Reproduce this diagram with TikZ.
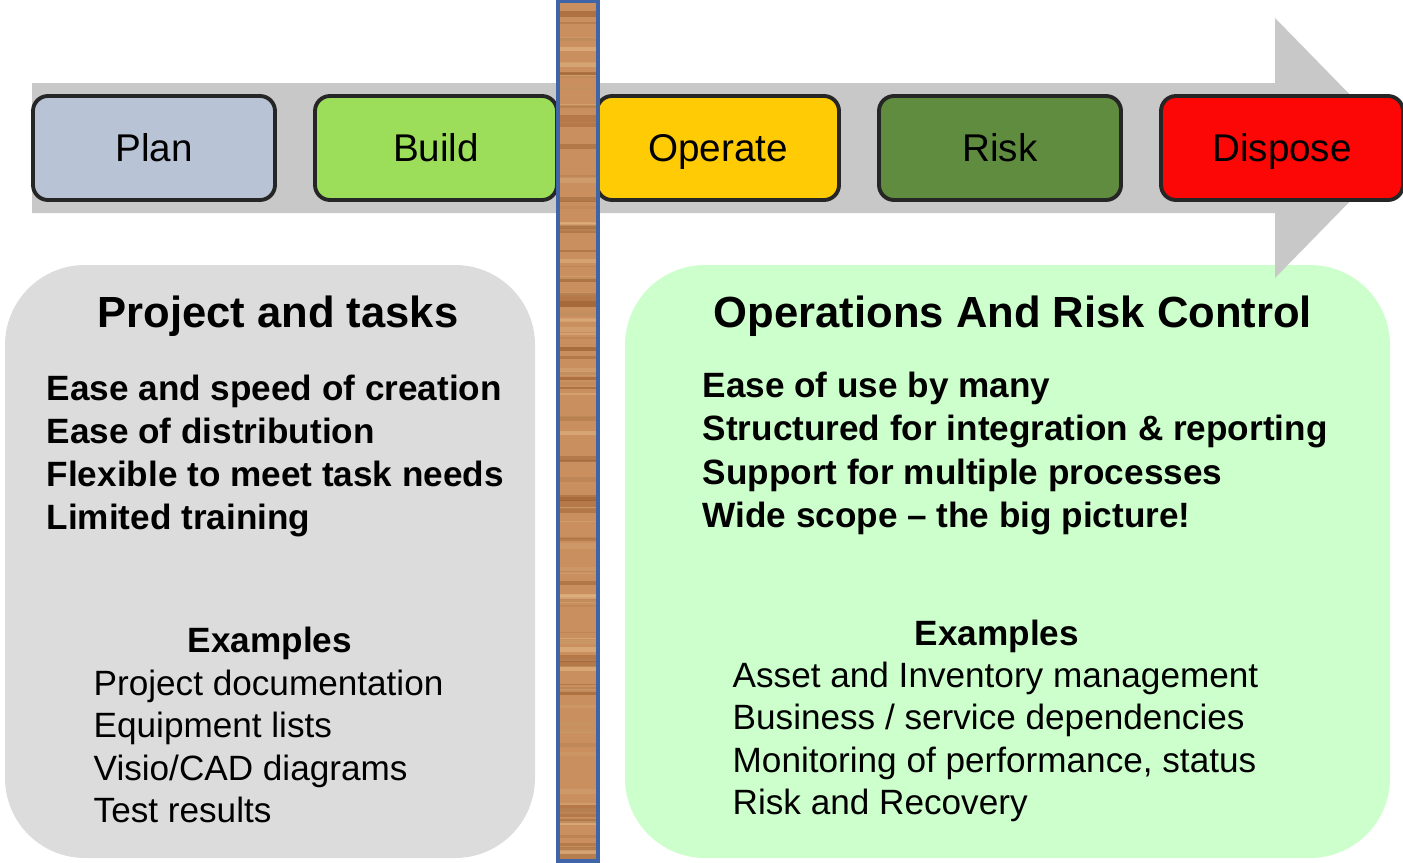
\documentclass[tikz,border=0pt]{standalone}
\usepackage{fontspec}
\setmainfont{Liberation Sans}
\usepackage{tikz}
\usetikzlibrary{positioning}
\definecolor{bandgray}{HTML}{C8C8C8}
\definecolor{plancol}{HTML}{B9C3D6}
\definecolor{buildcol}{HTML}{9CDE5A}
\definecolor{operatecol}{HTML}{FFCB05}
\definecolor{riskcol}{HTML}{5F8C3E}
\definecolor{disposecol}{HTML}{FC0606}
\definecolor{leftfill}{HTML}{DCDCDC}
\definecolor{rightfill}{HTML}{CCFFCC}
\definecolor{woodbase}{HTML}{C98F5E}
\definecolor{wooddark}{HTML}{8E4F22}
\definecolor{woodlight}{HTML}{EBC08F}
\definecolor{woodedge}{HTML}{3F64A8}
\tikzset{
    phase/.style={rectangle, rounded corners=0.15cm, draw=black!85, line width=1.1pt, align=center, minimum width=2.42cm, minimum height=1.04cm, outer sep=0pt, text height=9pt, text depth=1.4pt, font=\fontsize{11}{13}\selectfont},
    panel/.style={rounded corners=0.8cm},
    heading/.style={font=\fontsize{12.4}{15}\selectfont\bfseries, inner sep=0pt},
    points/.style={align=left, anchor=west, inner sep=0pt, font=\fontsize{10}{12.25}\selectfont\bfseries},
    subhead/.style={font=\fontsize{10}{12}\selectfont\bfseries, inner sep=0pt},
    items/.style={align=left, anchor=west, inner sep=0pt, font=\fontsize{10}{12.1}\selectfont}
}
\begin{document}
\begin{tikzpicture}
    \useasboundingbox (0,0) rectangle (14.03,8.62);

    % Lower panels
    \fill[panel, leftfill] (0.05,0.04) rectangle (5.35,5.97);
    \fill[panel, rightfill] (6.25,0.04) rectangle (13.90,5.97);

    % Life-cycle arrow
    \fill[bandgray] (0.32,7.79) -- (12.75,7.79) -- (12.75,8.44) -- (14.02,7.14)
        -- (12.75,5.84) -- (12.75,6.49) -- (0.32,6.49) -- cycle;

    % Phases
    \node[phase, fill=plancol] (plan) at (1.54,7.14) {Plan};
    \node[phase, fill=buildcol, right=0.40cm of plan] (build) {Build};
    \node[phase, fill=operatecol, right=0.40cm of build] (operate) {Operate};
    \node[phase, fill=riskcol, right=0.40cm of operate] (risk) {Risk};
    \node[phase, fill=disposecol, right=0.40cm of risk] (dispose) {Dispose};

    % Left panel text
    \node[heading] (projtitle) at (2.78,5.46) {Project and tasks};
    \node[points] (projpoints) at (0.46,4.06) {Ease and speed of creation\\Ease of distribution\\Flexible to meet task needs\\Limited training};
    \node[subhead] (projexhead) at (2.70,2.19) {Examples};
    \node[items] (projitems) at (0.93,1.155) {Project documentation\\Equipment lists\\Visio/CAD diagrams\\Test results};

    % Right panel text
    \node[heading] (opstitle) at (10.13,5.46) {Operations And Risk Control};
    \node[points] (opspoints) at (7.02,4.085) {Ease of use by many\\Structured for integration \& reporting\\Support for multiple processes\\Wide scope -- the big picture!};
    \node[subhead] (opsexhead) at (9.97,2.26) {Examples};
    \node[items] (opsitems) at (7.32,1.20) {Asset and Inventory management\\Business / service dependencies\\Monitoring of performance, status\\Risk and Recovery};

    % Wooden divider
    \begin{scope}
        \clip (5.58,0) rectangle (5.98,8.62);
        \fill[woodbase] (5.58,0) rectangle (5.98,8.62);
        \pgfmathsetseed{11}
        \foreach \k in {1,...,110}
        {
            \pgfmathsetmacro{\yy}{rnd*8.62}
            \pgfmathsetmacro{\ww}{0.3+rnd*1.4}
            \pgfmathsetmacro{\sh}{rnd*100}
            \draw[line width=\ww pt, wooddark!\sh!woodlight, opacity=0.5] (5.58,\yy) -- (5.98,\yy);
        }
        \foreach \yy in {0.45,1.95,3.55,5.55,7.35}
        {
            \fill[wooddark, opacity=0.35] (5.58,\yy) rectangle (5.98,\yy+0.12);
        }
    \end{scope}
    \draw[woodedge, line width=1.2pt] (5.58,0.01) rectangle (5.98,8.61);
\end{tikzpicture}
\end{document}
